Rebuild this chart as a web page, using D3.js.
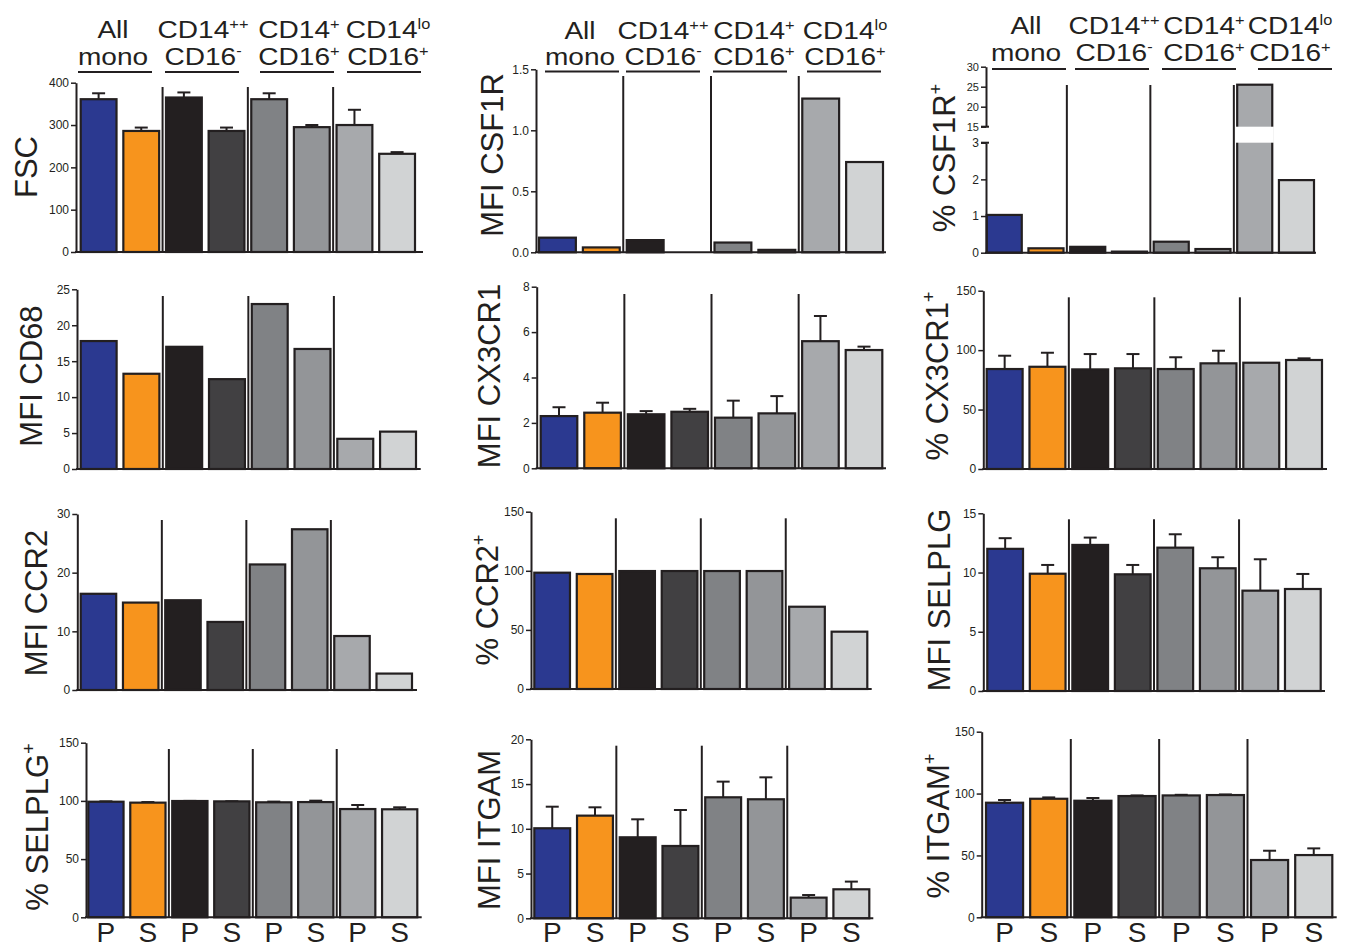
<!DOCTYPE html>
<html><head><meta charset="utf-8">
<script src="https://cdn.jsdelivr.net/npm/d3@7"></script>
<style>
body{margin:0;background:#fff}
svg text{font-family:"Liberation Sans",Arial,Helvetica,sans-serif;fill:#231f20}
</style>
</head><body>
<svg id="c" width="1352" height="947"></svg>
<script>
// ---------- data ----------
const groupLine1 = [["All",""],["CD14","++"],["CD14","+"],["CD14","lo"]];
const groupLine2 = [["mono",""],["CD16","-"],["CD16","+"],["CD16","+"]];
const conditions = ["P","S","P","S","P","S","P","S"];
const barColors = ["#2b3990","#f7941d","#231f20","#414042","#808285","#939598","#a7a9ac","#d1d3d4"];

const fscMean = [361,286,365,286,361,295,300,232];
const fscSem  = [14,8,12,8,14,5,36,4];
const csf1rMfi = [0.12,0.04,0.10,0,0.08,0.02,1.26,0.74];
const csf1rPct = [1.03,0.12,0.16,0.03,0.30,0.10,25.5,1.98];
const cd68Mfi = [17.8,13.25,17.0,12.5,22.95,16.7,4.2,5.2];
const cx3cr1Mfi = [2.3,2.45,2.38,2.49,2.23,2.42,5.6,5.21];
const cx3cr1MfiSem = [0.39,0.44,0.14,0.13,0.75,0.76,1.11,0.15];
const cx3cr1Pct = [84.1,86,83.8,84.7,84.1,88.9,89.4,91.7];
const cx3cr1PctSem = [11.2,11.8,12.9,12,9.9,10.6,0,1.4];
const ccr2Mfi = [16.4,14.9,15.3,11.6,21.4,27.4,9.2,2.8];
const ccr2Pct = [98.4,97.3,99.8,99.8,99.8,99.8,69.6,48.5];
const selplgMfi = [12.0,9.9,12.33,9.85,12.1,10.36,8.47,8.61];
const selplgMfiSem = [0.9,0.74,0.62,0.79,1.13,0.93,2.65,1.27];
const selplgPct = [99.3,98.5,99.9,99.6,98.8,99.0,93.0,92.8];
const selplgPctSem = [0.3,0.5,0.1,0.1,0.6,1.2,3.5,1.7];
const itgamMfi = [10.06,11.47,9.05,8.08,13.52,13.3,2.31,3.24];
const itgamMfiSem = [2.41,0.93,2.01,4.02,1.75,2.45,0.29,0.86];
const itgamPct = [92.6,95.8,94.2,98.0,98.5,98.8,46.3,50.3];
const itgamPctSem = [2.2,1.1,2.2,0.5,0.5,0.5,7.5,5.4];

const ticksFsc = [0,100,200,300,400];
const ticksCsf1rMfi = [0,0.5,1.0,1.5];
const ticksCsf1rPctLow = [0,1,2,3];
const ticksCsf1rPctHigh = [15,20,25,30];
const ticksCd68 = [0,5,10,15,20,25];
const ticksCx3cr1Mfi = [0,2,4,6,8];
const ticksPct = [0,50,100,150];
const ticksCcr2Mfi = [0,10,20,30];
const ticksSelplgMfi = [0,5,10,15];
const ticksItgamMfi = [0,5,10,15,20];

const panels = [
  {label:"FSC", sup:"", mean:fscMean, sem:fscSem, ticks:ticksFsc, fmt:"d"},
  {label:"MFI CSF1R", sup:"", mean:csf1rMfi, sem:null, ticks:ticksCsf1rMfi, fmt:".1f"},
  {label:"% CSF1R", sup:"+", mean:csf1rPct, sem:null, broken:true, ticksLow:ticksCsf1rPctLow, ticksHigh:ticksCsf1rPctHigh, fmt:"d"},
  {label:"MFI CD68", sup:"", mean:cd68Mfi, sem:null, ticks:ticksCd68, fmt:"d"},
  {label:"MFI CX3CR1", sup:"", mean:cx3cr1Mfi, sem:cx3cr1MfiSem, ticks:ticksCx3cr1Mfi, fmt:"d"},
  {label:"% CX3CR1", sup:"+", mean:cx3cr1Pct, sem:cx3cr1PctSem, ticks:ticksPct, fmt:"d"},
  {label:"MFI CCR2", sup:"", mean:ccr2Mfi, sem:null, ticks:ticksCcr2Mfi, fmt:"d"},
  {label:"% CCR2", sup:"+", mean:ccr2Pct, sem:null, ticks:ticksPct, fmt:"d"},
  {label:"MFI SELPLG", sup:"", mean:selplgMfi, sem:selplgMfiSem, ticks:ticksSelplgMfi, fmt:"d"},
  {label:"% SELPLG", sup:"+", mean:selplgPct, sem:selplgPctSem, ticks:ticksPct, fmt:"d"},
  {label:"MFI ITGAM", sup:"", mean:itgamMfi, sem:itgamMfiSem, ticks:ticksItgamMfi, fmt:"d"},
  {label:"% ITGAM", sup:"+", mean:itgamPct, sem:itgamPctSem, ticks:ticksPct, fmt:"d"}
];

// ---------- layout ----------
const layout = [
  {x0:76, xEnd:423, yTop:82.7, y0:252, b0:80.7, b1:415, sepTop:87, lx:37, ly:167},
  {x0:536, xEnd:886, yTop:69.3, y0:252.3, b0:539, b1:883, sepTop:76, lx:503, ly:155},
  {x0:986, xEnd:1316, yTop:66.7, upBot:126.7, lowTop:142.7, y0:252.7, b0:986.7, b1:1314, sepTop:85, lx:955, ly:158},
  {x0:77, xEnd:420.7, yTop:289.3, y0:469, b0:80.7, b1:416, sepTop:296, lx:42, ly:376},
  {x0:536.7, xEnd:886, yTop:286.7, y0:468.3, b0:540.7, b1:882.3, sepTop:294, lx:500, ly:376},
  {x0:983.3, xEnd:1327, yTop:290.7, y0:469, b0:986.7, b1:1322, sepTop:297.3, lx:948, ly:376},
  {x0:77.3, xEnd:417, yTop:514, y0:690, b0:80.7, b1:412, sepTop:520, lx:47, ly:603},
  {x0:531, xEnd:871.7, yTop:511.7, y0:689, b0:534.3, b1:867.3, sepTop:518.3, lx:498, ly:600},
  {x0:983.3, xEnd:1325, yTop:513.3, y0:691, b0:987.3, b1:1320.7, sepTop:519.3, lx:950, ly:600},
  {x0:86, xEnd:421.7, yTop:742.7, y0:917.3, b0:88.3, b1:417.3, sepTop:749, lx:48, ly:827},
  {x0:531, xEnd:873.3, yTop:739.3, y0:918.3, b0:534.3, b1:869.3, sepTop:745.7, lx:500, ly:830},
  {x0:981.7, xEnd:1336.7, yTop:731.7, y0:917.3, b0:986, b1:1332.3, sepTop:739, lx:949, ly:826}
];
const headerLayout = [
  {tx:[113,203,299,388], ux:[115,202,297,384], y1:38, y2:65, uy:72},
  {tx:[580,663,754,845], ux:[582,663,750,844], y1:39, y2:65, uy:71.5},
  {tx:[1026,1114,1204,1290], ux:[1029,1112,1199,1295], y1:34, y2:61, uy:69}
];
const INK = "#231f20";
const svg = d3.select("#c");

function styleAxis(a){
  a.select(".domain").attr("stroke",INK).attr("stroke-width",2);
  a.selectAll(".tick line").attr("stroke",INK).attr("stroke-width",1.5);
  a.selectAll(".tick text").attr("font-size",12).attr("fill",INK)
    .style("font-family",'"Liberation Sans",Arial,sans-serif');
}

panels.forEach((p,i)=>{
  const L = layout[i];
  const g = svg.append("g");
  const x = d3.scaleBand().domain(d3.range(conditions.length)).range([L.b0,L.b1]).paddingInner(0.16).paddingOuter(0);
  let y, upper, lower;
  if(p.broken){
    lower = d3.scaleLinear().domain([0,3]).range([L.y0,L.lowTop]);
    upper = d3.scaleLinear().domain([15,30]).range([L.upBot,L.yTop]);
    y = v => v<=3 ? lower(v) : upper(v);
  } else {
    y = d3.scaleLinear().domain([p.ticks[0], p.ticks[p.ticks.length-1]]).range([L.y0,L.yTop]);
  }
  // separators
  [1,3,5].forEach(k=>{
    const sx = (x(k)+x.bandwidth()+x(k+1))/2;
    g.append("line").attr("x1",sx).attr("x2",sx).attr("y1",L.sepTop).attr("y2",L.y0)
      .attr("stroke",INK).attr("stroke-width",2);
  });
  // error bars
  if(p.sem){
    p.mean.forEach((m,j)=>{
      if(!p.sem[j]) return;
      const cx = x(j)+x.bandwidth()/2;
      g.append("line").attr("x1",cx).attr("x2",cx).attr("y1",y(m)).attr("y2",y(m+p.sem[j]))
        .attr("stroke",INK).attr("stroke-width",2);
      g.append("line").attr("x1",cx-6.5).attr("x2",cx+6.5).attr("y1",y(m+p.sem[j])).attr("y2",y(m+p.sem[j]))
        .attr("stroke",INK).attr("stroke-width",2);
    });
  }
  // bars
  g.selectAll("rect.bar").data(p.mean).join("rect").attr("class","bar")
    .attr("x",(d,j)=>x(j)).attr("width",x.bandwidth())
    .attr("y",d=>y(d)).attr("height",d=>L.y0-y(d))
    .attr("fill",(d,j)=>barColors[j]).attr("stroke",INK).attr("stroke-width",2.2);
  // broken-axis gap
  if(p.broken){
    p.mean.forEach((m,j)=>{
      if(m>3) g.append("rect").attr("x",x(j)-1.6).attr("width",x.bandwidth()+3.2)
        .attr("y",upper(15)).attr("height",lower(3)-upper(15)).attr("fill","#fff");
    });
  }
  // x axis line
  g.append("line").attr("x1",L.x0-1).attr("x2",L.xEnd).attr("y1",L.y0).attr("y2",L.y0)
    .attr("stroke",INK).attr("stroke-width",2);
  // y axis
  if(p.broken){
    const a1 = g.append("g").attr("transform",`translate(${L.x0},0)`)
      .call(d3.axisLeft(lower).tickValues(p.ticksLow).tickFormat(d3.format(p.fmt)).tickSize(5).tickSizeOuter(0).tickPadding(2));
    styleAxis(a1);
    const a2 = g.append("g").attr("transform",`translate(${L.x0},0)`)
      .call(d3.axisLeft(upper).tickValues(p.ticksHigh).tickFormat(d3.format(p.fmt)).tickSize(5).tickSizeOuter(0).tickPadding(2));
    styleAxis(a2);
    a2.selectAll(".tick text").attr("font-size",11);
    [upper(15), lower(3)].forEach(by=>{
      g.append("line").attr("x1",L.x0-5).attr("x2",L.x0+3).attr("y1",by).attr("y2",by)
        .attr("stroke",INK).attr("stroke-width",2);
    });
  } else {
    const a = g.append("g").attr("transform",`translate(${L.x0},0)`)
      .call(d3.axisLeft(y).tickValues(p.ticks).tickFormat(d3.format(p.fmt)).tickSize(5).tickSizeOuter(0).tickPadding(2));
    styleAxis(a);
  }
  // y label
  const t = g.append("text").attr("transform",`translate(${L.lx},${L.ly}) rotate(-90)`)
    .attr("text-anchor","middle").attr("font-size",31);
  t.append("tspan").text(p.label);
  if(p.sup) t.append("tspan").attr("font-size",18).attr("dy",-13).text(p.sup);
  // headers (top row)
  if(i<3){
    const H = headerLayout[i];
    [groupLine1, groupLine2].forEach((lines,li)=>{
      lines.forEach((pair,gi)=>{
        const tt = g.append("text")
          .attr("transform",`translate(${H.tx[gi]},${li===0?H.y1:H.y2}) scale(1.17,1)`)
          .attr("text-anchor","middle").attr("font-size",24);
        tt.append("tspan").text(pair[0]);
        if(pair[1]) tt.append("tspan").attr("font-size",14).attr("dy",-9).text(pair[1]);
      });
    });
    H.ux.forEach(ux=>{
      g.append("line").attr("x1",ux-37).attr("x2",ux+37).attr("y1",H.uy).attr("y2",H.uy)
        .attr("stroke",INK).attr("stroke-width",2);
    });
  }
  // P/S labels (bottom row)
  if(i>=9){
    g.selectAll("text.cond").data(conditions).join("text").attr("class","cond")
      .attr("x",(d,j)=>x(j)+x.bandwidth()/2).attr("y",942)
      .attr("text-anchor","middle").attr("font-size",28).text(d=>d);
  }
});
</script>
</body></html>
